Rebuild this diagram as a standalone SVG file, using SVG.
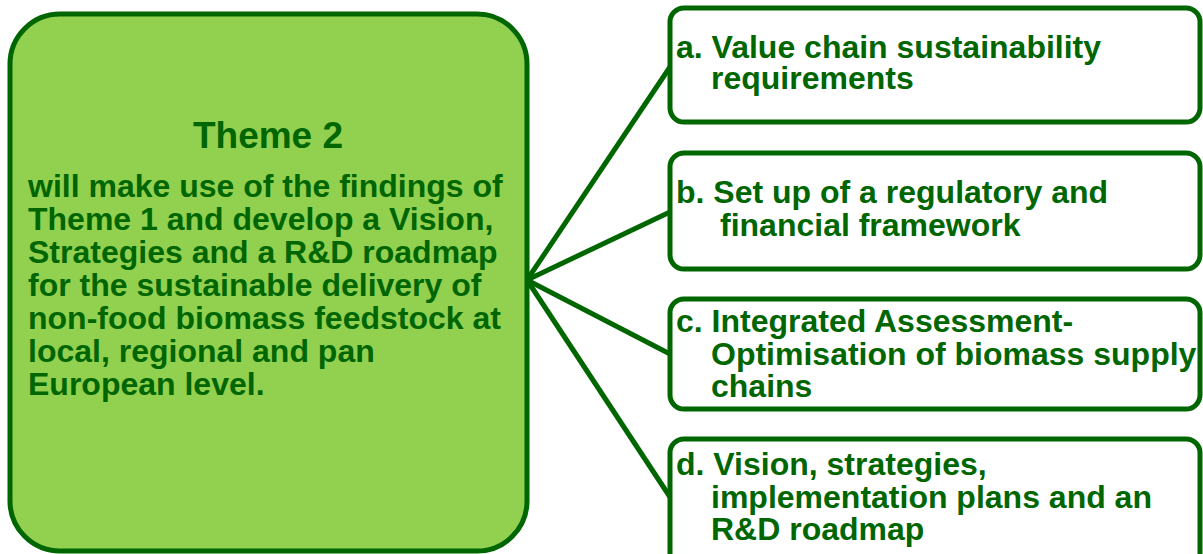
<svg xmlns="http://www.w3.org/2000/svg" width="1203" height="554" viewBox="0 0 1203 554">
<style>
.box{fill:#ffffff;stroke:#006600;stroke-width:5}
.main{fill:#92d050;stroke:#006600;stroke-width:5}
.t{font-family:"Liberation Sans",Arial,sans-serif;font-weight:bold;font-size:32px;fill:#006600}
.h{font-size:37px}
.c{stroke:#006600;stroke-width:5;fill:none}
</style>
<rect width="1203" height="554" fill="#ffffff"/>
<g id="connectors">
<line class="c" x1="527" y1="280" x2="670" y2="67"/>
<line class="c" x1="527" y1="280" x2="670" y2="212"/>
<line class="c" x1="527" y1="280" x2="670" y2="354"/>
<line class="c" x1="527" y1="280" x2="670" y2="497"/>
</g>
<g id="theme2">
<rect class="main" x="10" y="14" width="517" height="537" rx="50" ry="50"/>
<text class="t h" x="268" y="148" text-anchor="middle">Theme 2</text>
<text class="t" x="28" y="197">will make use of the findings of</text>
<text class="t" x="28" y="230">Theme 1 and develop a Vision,</text>
<text class="t" x="28" y="263">Strategies and a R&amp;D roadmap</text>
<text class="t" x="28" y="296">for the sustainable delivery of</text>
<text class="t" x="28" y="329">non-food biomass feedstock at</text>
<text class="t" x="28" y="362">local, regional and pan</text>
<text class="t" x="28" y="395">European level.</text>
</g>
<g id="a">
<rect class="box" x="670" y="8" width="530" height="114" rx="14" ry="14"/>
<text class="t" x="676" y="58">a. Value chain sustainability</text>
<text class="t" x="711" y="89">requirements</text>
</g>
<g id="b">
<rect class="box" x="670" y="153" width="530" height="116" rx="14" ry="14"/>
<text class="t" x="676" y="203">b. Set up of a regulatory and</text>
<text class="t" x="720" y="236">financial framework</text>
</g>
<g id="c">
<rect class="box" x="670" y="299" width="530" height="110" rx="14" ry="14"/>
<text class="t" x="676" y="332">c. Integrated Assessment-</text>
<text class="t" x="711" y="365">Optimisation of biomass supply</text>
<text class="t" x="711" y="397">chains</text>
</g>
<g id="d">
<rect class="box" x="670" y="439" width="530" height="130" rx="14" ry="14"/>
<text class="t" x="676" y="475">d. Vision, strategies,</text>
<text class="t" x="711" y="508">implementation plans and an</text>
<text class="t" x="711" y="540">R&amp;D roadmap</text>
</g>
</svg>
